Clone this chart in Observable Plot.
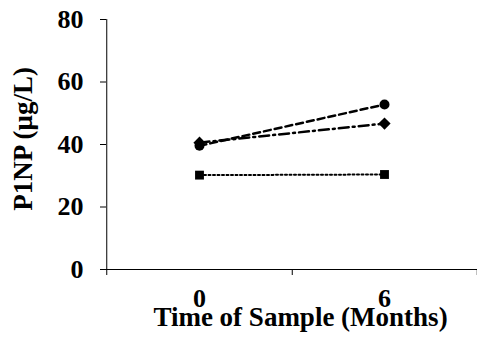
<!DOCTYPE html>
<html><head><meta charset="utf-8">
<script src="https://cdn.jsdelivr.net/npm/d3@7"></script>
<script src="https://cdn.jsdelivr.net/npm/@observablehq/plot@0.6"></script>
<style>
html,body{margin:0;padding:0;background:#fff}
svg{display:block}
#warm{position:absolute;top:0;left:0;visibility:hidden;font-family:"Liberation Serif";font-weight:bold;font-size:26px}
</style>
</head><body>
<div id="warm">P1NP (μg/L) Time of Sample (Months) 0 6 20 40 60 80</div>
<div id="chart"></div>
<script>
// categories (x) and tick labels
const months = ["0", "6"];
const yTicks = [0, 20, 40, 60, 80];
// series values (P1NP, µg/L)
const seriesCircle  = [39.6, 52.8];  // dashed line, circles
const seriesDiamond = [40.6, 46.7];  // dash-dot line, diamonds
const seriesSquare  = [30.2, 30.4];  // dotted line, squares
const yLabel = "P1NP (μg/L)";
const xLabel = "Time of Sample (Months)";

const toRows = s => months.map((m, i) => ({month: m, value: s[i]}));
const A = toRows(seriesCircle), B = toRows(seriesDiamond), C = toRows(seriesSquare);

const W = 477, H = 343, ML = 106, MR = 0, MT = 19, MB = 74;
const half = (W - ML - MR) / 4; // half of one category step

const chart = Plot.plot({
  width: W, height: H,
  marginLeft: ML, marginRight: MR, marginTop: MT, marginBottom: MB,
  style: {fontFamily: "Liberation Serif", fontSize: "26px", fontWeight: "bold", color: "#000", background: "#fff"},
  x: {type: "point", domain: months, padding: 0.5, align: 0.5},
  y: {domain: [0, 80]},
  marks: [
    Plot.axisY({ticks: yTicks, tickSize: 6, tickPadding: 17, label: null, tickFormat: d => d}),
    Plot.ruleY([0], {stroke: "#000", strokeWidth: 1}),
    Plot.ruleX([months[0]], {y1: 0, y2: 80, dx: -half, stroke: "#000"}),
    Plot.ruleX([months[0]], {y1: 0, y2: 0, insetBottom: -6, dx: -half, stroke: "#000"}),
    Plot.ruleX(months, {y1: 0, y2: 0, insetBottom: -6, dx: half, stroke: "#000"}),
    Plot.axisX({tickSize: 0, tickPadding: 19, label: null}),
    Plot.text([yLabel], {frameAnchor: "left", textAnchor: "middle", rotate: -90, lineAnchor: "bottom", dx: -74.5, dy: -5.6, fill: "#000", fontSize: 27}),
    Plot.text([xLabel], {frameAnchor: "bottom", textAnchor: "middle", lineAnchor: "bottom", dx: 8.5, dy: 56, fill: "#000", fontSize: 27}),
    Plot.line(A, {x: "month", y: "value", stroke: "#000", strokeWidth: 2.5, strokeDasharray: "7,4"}),
    Plot.line(B, {x: "month", y: "value", stroke: "#000", strokeWidth: 2.5, strokeDasharray: "10,4,2,4"}),
    Plot.line(C, {x: "month", y: "value", stroke: "#000", strokeWidth: 2, strokeDasharray: "2,2.5"}),
    Plot.dot(A, {x: "month", y: "value", symbol: "circle", r: 5, fill: "#000"}),
    Plot.dot(B, {x: "month", y: "value", symbol: "diamond2", r: 5.5, fill: "#000"}),
    Plot.dot(C, {x: "month", y: "value", symbol: "square", r: 5, fill: "#000"})
  ]
});
document.getElementById("chart").appendChild(chart);
</script>
</body></html>
